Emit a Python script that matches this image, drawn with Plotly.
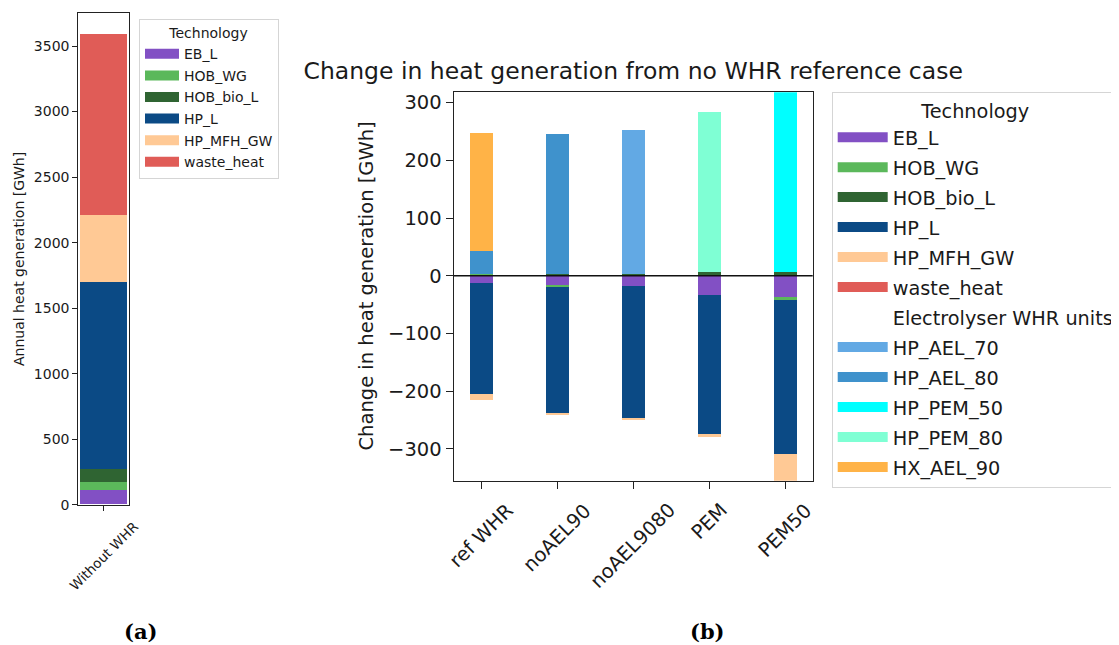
import plotly.graph_objects as go

# ---------------- data ----------------
techs = ["EB_L", "HOB_WG", "HOB_bio_L", "HP_L", "HP_MFH_GW", "waste_heat"]
whr_units = ["HP_AEL_70", "HP_AEL_80", "HP_PEM_50", "HP_PEM_80", "HX_AEL_90"]

colors = {
    "EB_L": "#8250C4",
    "HOB_WG": "#5BB85B",
    "HOB_bio_L": "#2F6432",
    "HP_L": "#0B4A85",
    "HP_MFH_GW": "#FFC995",
    "waste_heat": "#E05C57",
    "HP_AEL_70": "#62A9E4",
    "HP_AEL_80": "#3F92CC",
    "HP_PEM_50": "#00FFFF",
    "HP_PEM_80": "#7FFFD4",
    "HX_AEL_90": "#FFB347",
}

# (a) annual heat generation without WHR [GWh]
left_categories = ["Without WHR"]
left_EB_L = [107]
left_HOB_WG = [61]
left_HOB_bio_L = [102]
left_HP_L = [1424]
left_HP_MFH_GW = [516]
left_waste_heat = [1381]

# (b) change from no-WHR reference case [GWh]
scenarios = ["ref WHR", "noAEL90", "noAEL9080", "PEM", "PEM50"]
d_EB_L = [-13.2, -17.3, -19.0, -33.4, -38.1]
d_HOB_WG = [2.0, -2.5, 0.0, 0.0, -5.2]
d_HOB_bio_L = [0.0, 3.0, 3.0, 6.0, 6.0]
d_HP_L = [-192.2, -220.0, -229.2, -241.3, -265.6]
d_HP_MFH_GW = [-9.9, -0.5, -1.8, -5.3, -60.0]
d_waste_heat = [0.0, 0.0, 0.0, 0.0, 0.0]
d_HP_AEL_70 = [0.0, 0.0, 249.4, 0.0, 0.0]
d_HP_AEL_80 = [41.0, 242.0, 0.0, 0.0, 0.0]
d_HP_PEM_50 = [0.0, 0.0, 0.0, 0.0, 335.0]
d_HP_PEM_80 = [0.0, 0.0, 0.0, 278.0, 0.0]
d_HX_AEL_90 = [204.5, 0.0, 0.0, 0.0, 0.0]

left_values = {
    "EB_L": left_EB_L, "HOB_WG": left_HOB_WG, "HOB_bio_L": left_HOB_bio_L,
    "HP_L": left_HP_L, "HP_MFH_GW": left_HP_MFH_GW, "waste_heat": left_waste_heat,
}
right_values = {
    "EB_L": d_EB_L, "HOB_WG": d_HOB_WG, "HOB_bio_L": d_HOB_bio_L,
    "HP_L": d_HP_L, "HP_MFH_GW": d_HP_MFH_GW, "waste_heat": d_waste_heat,
    "HP_AEL_70": d_HP_AEL_70, "HP_AEL_80": d_HP_AEL_80, "HP_PEM_50": d_HP_PEM_50,
    "HP_PEM_80": d_HP_PEM_80, "HX_AEL_90": d_HX_AEL_90,
}

# page has an 8px body margin -> figure origin sits at (8, 8) in the window
OFF = 8
W, H = 1119 - OFF, 645 - OFF


def px(X):
    return (X - OFF) / W


def py(Y):
    return 1 - (Y - OFF) / H


FONT = "DejaVu Sans"
TXT = "#1a1a1a"

fig = go.Figure()

# ---- left bars ----
for t in techs:
    fig.add_trace(go.Bar(
        x=left_categories, y=left_values[t], name=t, width=0.5,
        marker=dict(color=colors[t], line=dict(width=0)),
        xaxis="x", yaxis="y", showlegend=False, legendgroup="L_" + t,
    ))
    fig.add_trace(go.Scatter(
        x=[None], y=[None], mode="lines", name=t,
        line=dict(color=colors[t], width=10),
        xaxis="x", yaxis="y", legend="legend", legendgroup="L_" + t,
    ))

# ---- right bars ----
for t in techs + whr_units:
    fig.add_trace(go.Bar(
        x=scenarios, y=right_values[t], name=t, width=0.3,
        marker=dict(color=colors[t], line=dict(width=0)),
        xaxis="x2", yaxis="y2", showlegend=False, legendgroup="R_" + t,
    ))

for t in techs + ["Electrolyser WHR units"] + whr_units:
    fig.add_trace(go.Scatter(
        x=[None], y=[None], mode="lines", name=t,
        line=dict(color=colors.get(t, "rgba(0,0,0,0)"), width=14),
        xaxis="x2", yaxis="y2", legend="legend2", legendgroup="R_" + t,
    ))

axis_common = dict(showline=True, mirror=True, linecolor="#222", showgrid=False,
                   zeroline=False, ticks="outside", tickcolor="#222")

fig.update_layout(
    width=W, height=H,
    margin=dict(l=0, r=0, t=0, b=0, autoexpand=False),
    paper_bgcolor="white", plot_bgcolor="white",
    barmode="relative", bargap=0,
    font=dict(family=FONT, color=TXT),
    title=dict(text="Change in heat generation from no WHR reference case",
               x=px(633.2), xanchor="center", y=py(71), yanchor="middle",
               font=dict(size=23.5, family=FONT, color=TXT)),
    xaxis=dict(domain=[px(78.3), px(129.3)], anchor="y", type="category",
               range=[-0.275, 0.275], showticklabels=False, ticklen=5,
               linewidth=1, tickwidth=1, **axis_common),
    yaxis=dict(domain=[py(504.7), py(13.3)], anchor="x",
               range=[0, 3750], tickvals=[0, 500, 1000, 1500, 2000, 2500, 3000, 3500],
               ticklen=5, linewidth=1, tickwidth=1,
               tickfont=dict(size=14, family=FONT, color=TXT), **axis_common),
    xaxis2=dict(domain=[px(453.7), px(812.7)], anchor="y2", type="category",
                range=[-0.365, 4.365], showticklabels=False, ticklen=7,
                linewidth=1.3, tickwidth=1.3, **axis_common),
    yaxis2=dict(domain=[py(480.7), py(92.3)], anchor="x2",
                range=[-355.1, 317.8], tickvals=[-300, -200, -100, 0, 100, 200, 300],
                ticklen=7, linewidth=1.3, tickwidth=1.3,
                tickfont=dict(size=19.5, family=FONT, color=TXT), **axis_common),
    legend=dict(x=px(139), y=py(19), xanchor="left", yanchor="top",
                font=dict(size=14, family=FONT, color=TXT),
                title=dict(text="Technology", side="top center",
                           font=dict(size=14, family=FONT, color=TXT)),
                bgcolor="white", bordercolor="#d5d5d5", borderwidth=1,
                tracegroupgap=0.4, itemwidth=34, traceorder="grouped"),
    legend2=dict(x=px(831.7), y=py(92), xanchor="left", yanchor="top",
                 font=dict(size=19.3, family=FONT, color=TXT),
                 title=dict(text="Technology", side="top center",
                            font=dict(size=19.3, family=FONT, color=TXT)),
                 bgcolor="white", bordercolor="#d5d5d5", borderwidth=1,
                 tracegroupgap=1.9, itemwidth=50, traceorder="grouped"),
)

# zero reference line on (b)
fig.add_shape(type="line", xref="x2 domain", yref="y2", x0=0, x1=1, y0=0, y1=0,
              line=dict(color="#111", width=1.3), layer="above")

# axis titles
fig.add_annotation(text="Annual heat generation [GWh]", xref="paper", yref="paper",
                   x=px(19), y=py(259), xanchor="center", yanchor="middle",
                   textangle=-90, showarrow=False,
                   font=dict(size=14, family=FONT, color=TXT))
fig.add_annotation(text="Change in heat generation [GWh]", xref="paper", yref="paper",
                   x=px(366), y=py(286.5), xanchor="center", yanchor="middle",
                   textangle=-90, showarrow=False,
                   font=dict(size=19.5, family=FONT, color=TXT))

# rotated category labels (centered under ticks like matplotlib)
for c in left_categories:
    fig.add_annotation(text=c, xref="x", yref="paper", x=c, y=py(516),
                       xanchor="center", yanchor="top", textangle=-45, showarrow=False,
                       font=dict(size=13.5, family=FONT, color=TXT))
for c in scenarios:
    fig.add_annotation(text=c, xref="x2", yref="paper", x=c, y=py(496),
                       xanchor="center", yanchor="top", textangle=-45, showarrow=False,
                       font=dict(size=19.5, family=FONT, color=TXT))

# sub-figure captions
fig.add_annotation(text="<b>(a)</b>", xref="paper", yref="paper", x=px(140), y=py(631),
                   xanchor="center", yanchor="middle",
                   showarrow=False, font=dict(size=21, family="DejaVu Serif", color="black"))
fig.add_annotation(text="<b>(b)</b>", xref="paper", yref="paper", x=px(707), y=py(631),
                   xanchor="center", yanchor="middle",
                   showarrow=False, font=dict(size=21, family="DejaVu Serif", color="black"))

fig.write_html("out.html")
